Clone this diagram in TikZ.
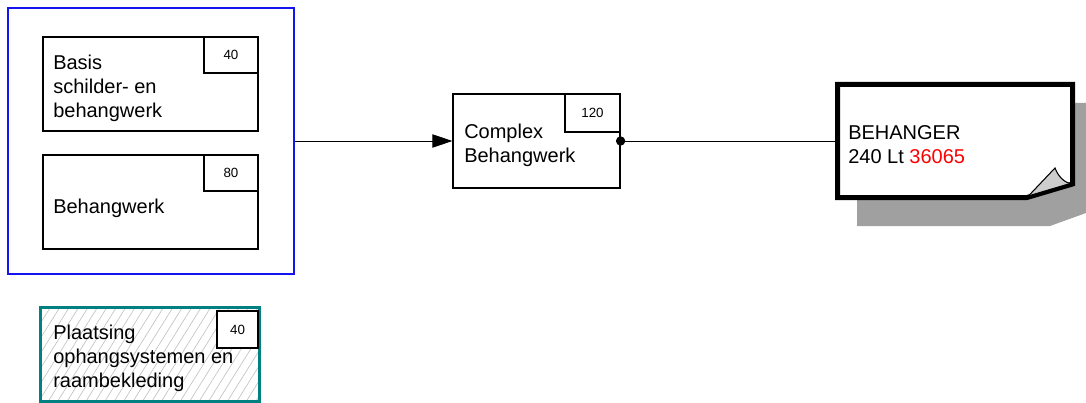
\documentclass[tikz,border=0pt]{standalone}
\usepackage{fontspec}
\setmainfont{Liberation Sans}
\usetikzlibrary{arrows.meta,patterns.meta}
\definecolor{tealline}{RGB}{0,128,128}
\definecolor{bluebox}{RGB}{20,20,240}
\definecolor{shadowgray}{RGB}{160,160,160}
\definecolor{curlgray}{RGB}{205,205,205}
\tikzset{
  mainbox/.style={draw=black, line width=0.9pt, fill=white, inner sep=0pt},
  numbox/.style={draw=black, line width=0.9pt, fill=white, inner sep=0pt,
                 font=\fontsize{10pt}{12pt}\selectfont},
  lbl/.style={anchor=west, inner sep=0pt, align=left,
              font=\fontsize{15pt}{18pt}\selectfont},
}
\begin{document}
\begin{tikzpicture}[x=0.75pt,y=-0.75pt]
\useasboundingbox (0,0) rectangle (1086,403);
% group frame
\node[draw=bluebox, line width=1.1pt, minimum width=214.5pt, minimum height=199.5pt, inner sep=0pt] (grp) at (151,141) {};
% box 1
\node[mainbox, minimum width=161.25pt, minimum height=70.5pt] (b1) at (150.5,84) {};
\node[numbox, minimum width=40.5pt, minimum height=27pt] (n1) at (231,55) {40};
\node[lbl] (t1) at (53,88) {Basis\\schilder- en\\behangwerk};
% box 2
\node[mainbox, minimum width=161.25pt, minimum height=70.5pt] (b2) at (150.5,202) {};
\node[numbox, minimum width=40.5pt, minimum height=27pt] (n2) at (231,173) {80};
\node[lbl] (t2) at (53,208) {Behangwerk};
% teal hatched box
\node[draw=tealline, line width=2.25pt, minimum width=163.9pt, minimum height=70.6pt, inner sep=0pt,
      preaction={fill=white},
      pattern={Lines[angle=58,distance=6pt,line width=0.45pt]}, pattern color=black!25] (b3) at (150.25,354.4) {};
\node[numbox, line width=1.2pt, minimum width=30.75pt, minimum height=27.75pt] (n3) at (237.5,329.5) {40};
\node[lbl] (t3) at (53,358) {Plaatsing\\ophangsystemen en\\raambekleding};
% complex box
\node[mainbox, minimum width=125.25pt, minimum height=70.5pt] (cx) at (536.5,141) {};
\node[numbox, minimum width=41.25pt, minimum height=28.5pt] (n4) at (592.5,113) {120};
\node[lbl] (t4) at (464,145) {Complex\\Behangwerk};
% output sheet
\fill[shadowgray] (857,103) -- (1086,103) -- (1086,213) -- (1050,226) -- (857,226) -- cycle;
\node[minimum width=176.25pt, minimum height=84.75pt, inner sep=0pt] (beh) at (955,141) {};
\filldraw[fill=white, draw=black, line width=3.75pt, line join=miter]
  (837.5,84.5) -- (1072.5,84.5) -- (1072.5,184) -- (1027,197.5) -- (837.5,197.5) -- cycle;
\filldraw[fill=curlgray, draw=black, line width=0.8pt]
  (1027,197.5) -- (1055,168) .. controls (1058,176) and (1064,183) .. (1072.5,184) -- cycle;
\draw[black, line width=2.5pt] (1027,197.5) -- (1072.5,184);
\node[lbl] (t5) at (848,145) {BEHANGER\\240 Lt \textcolor{red}{36065}};
% connectors
\draw[line width=0.6pt, -{Triangle[length=15pt,width=10pt]}] (grp.east) -- (cx.west);
\draw[line width=0.6pt] (cx.east) -- (beh.west);
\fill[black] (cx.east) circle (3.5pt);
\end{tikzpicture}
\end{document}
